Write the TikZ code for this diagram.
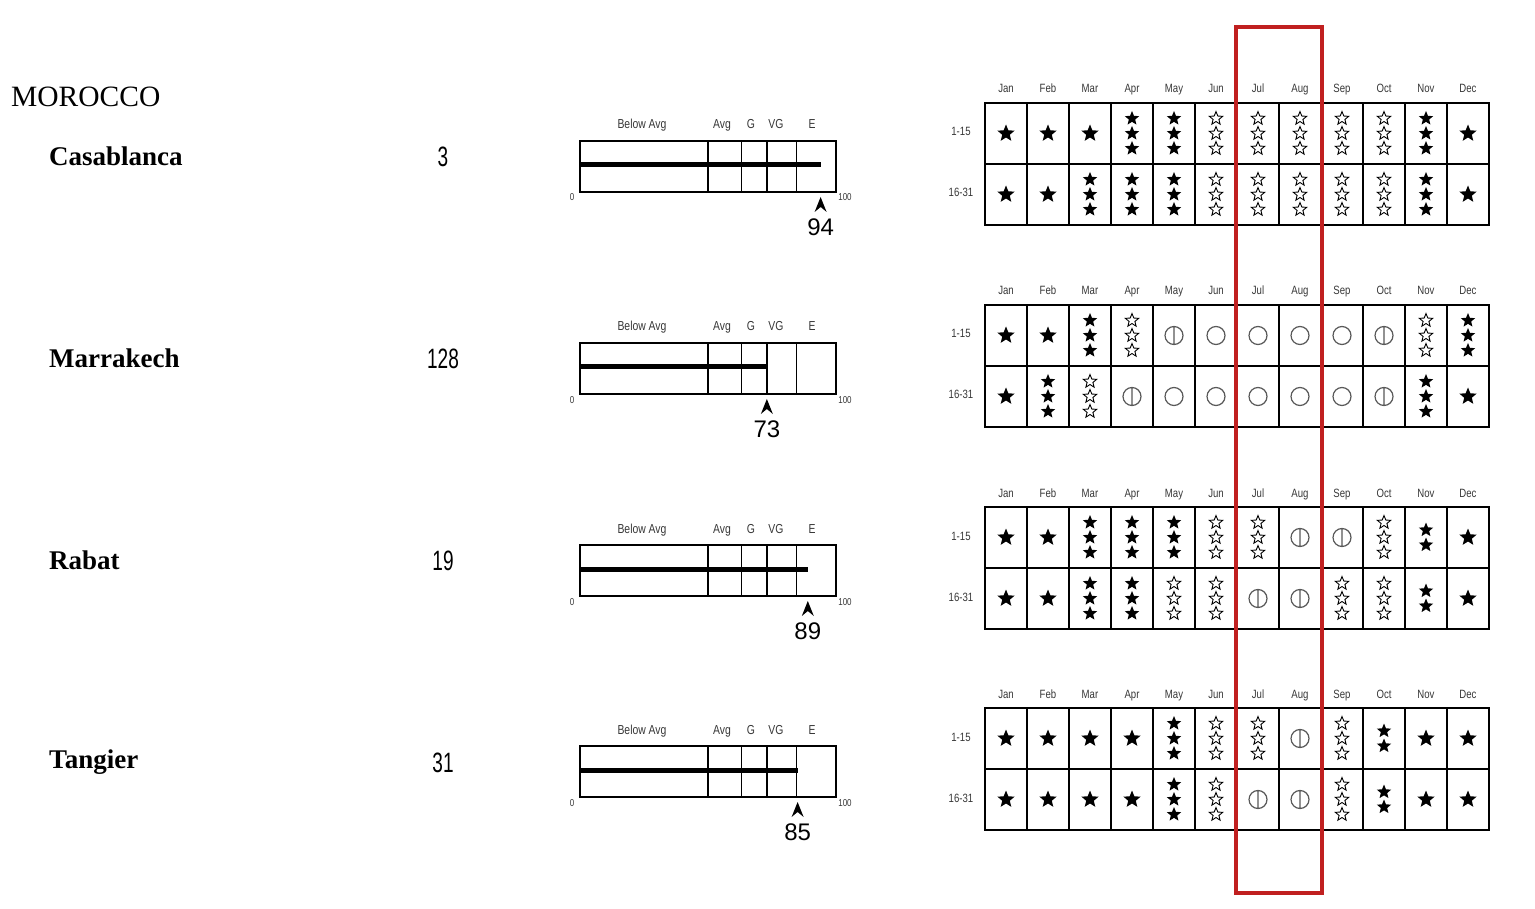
\documentclass[tikz,border=0pt]{standalone}
\usepackage{fontspec}
\setmainfont{Liberation Serif}
\setsansfont{Liberation Sans}
\newfontfamily\narrowsans[FakeStretch=0.8]{Liberation Sans}
\newfontfamily\numsans[FakeStretch=0.68]{Liberation Sans}
\usetikzlibrary{shapes.geometric}
\definecolor{boxred}{RGB}{192,32,32}
\definecolor{inkgray}{RGB}{55,55,55}

\tikzset{
  fstar/.style={star, star points=5, star point ratio=2.25, fill=black, inner sep=0pt, minimum size=#1},
  ostar/.style={star, star points=5, star point ratio=2.3, draw=black, line width=0.9pt, fill=white, inner sep=0pt, minimum size=#1},
  gridline/.style={line width=1.3pt},
  monthlabel/.style={font=\narrowsans\fontsize{12}{12}\selectfont, text=inkgray, inner sep=0pt, anchor=base},
  barlabel/.style={font=\narrowsans\fontsize{13}{13}\selectfont, text=inkgray, inner sep=0pt, anchor=base},
  f1/.pic={\node[fstar=18pt] {};},
  f2/.pic={\foreach \k in {-1,1} \node[fstar=15pt] at (0,7.5*\k) {};},
  f3/.pic={\foreach \k in {-1,0,1} \node[fstar=15pt] at (0,15*\k) {};},
  o3/.pic={\foreach \k in {-1,0,1} \node[ostar=14pt] at (0,15*\k) {};},
  ci/.pic={\draw[line width=1.2pt, black!65] (0,0) circle (9);},
  ph/.pic={\draw[line width=1.2pt, black!65] (0,0) circle (9) (0,-9) -- (0,9);}
}

% month grid: #1 top, #2 days 1-15, #3 days 16-31
\newcommand{\monthgrid}[3]{%
  \draw[gridline] (985,#1) rectangle (1489,#1+122);
  \draw[gridline] (985,#1+61) -- (1489,#1+61);
  \foreach \i in {1,...,11} \draw[gridline] (985+42*\i,#1) -- (985+42*\i,#1+122);
  \foreach \m [count=\i] in {Jan,Feb,Mar,Apr,May,Jun,Jul,Aug,Sep,Oct,Nov,Dec}
    \node[monthlabel] at (964+42*\i,#1-10) {\m};
  \node[monthlabel] at (961,#1+33) {1-15};
  \node[monthlabel] at (961,#1+94) {16-31};
  \foreach \s [count=\i] in {#2} \pic at (964+42*\i,#1+30.5) {\s};
  \foreach \s [count=\i] in {#3} \pic at (964+42*\i,#1+91.5) {\s};
}

% rating bar: #1 top, #2 score
\newcommand{\ratingbar}[2]{%
  \begin{scope}[shift={(580,#1)}]
    \draw[gridline] (0,38) rectangle (256,89);
    \foreach \p in {50,63,73,84.5} \draw[gridline] ({2.56*\p},38) -- ({2.56*\p},89);
    \node[barlabel] at (62,26) {Below Avg};
    \node[barlabel] at (142,26) {Avg};
    \node[barlabel] at (171,26) {G};
    \node[barlabel] at (196,26) {VG};
    \node[barlabel] at (232,26) {E};
    \node[barlabel, font=\narrowsans\fontsize{10}{10}\selectfont] at (-8,98) {0};
    \node[barlabel, font=\narrowsans\fontsize{10}{10}\selectfont] at (265,98) {100};
    \draw[line width=5pt] (0,62) -- ({2.56*#2},62);
    \fill ({2.56*#2},94) -- ++(6,15) -- ++(-6,-5) -- ++(-6,5) -- cycle;
    \node[font=\sffamily\fontsize{24}{24}\selectfont, inner sep=0pt] at ({2.56*#2},124) {#2};
  \end{scope}
}

\begin{document}
\begin{tikzpicture}[x=1pt, y=-1pt]
  \useasboundingbox[fill=white] (0,0) rectangle (1535,909);
  %country and cities
  \node[anchor=west, inner sep=0pt, font=\fontsize{29.5}{29.5}\selectfont] (morocco) at (11,97) {MOROCCO};
  \foreach \city/\rank [count=\j] in {Casablanca/3,Marrakech/128,Rabat/19,Tangier/31} {
    \node[anchor=west, inner sep=0pt, font=\bfseries\fontsize{27}{27}\selectfont] (city\j) at (49,103+202*\j-202+53) {\city};
    \node[inner sep=0pt, font=\numsans\fontsize{28}{28}\selectfont] (rank\j) at (443,103+202*\j-202+54) {\rank};
  }
  %rating bars
  \ratingbar{103}{94}
  \ratingbar{305}{73}
  \ratingbar{507}{89}
  \ratingbar{708}{85}
  %month grids
  \monthgrid{103}{f1,f1,f1,f3,f3,o3,o3,o3,o3,o3,f3,f1}{f1,f1,f3,f3,f3,o3,o3,o3,o3,o3,f3,f1}
  \monthgrid{305}{f1,f1,f3,o3,ph,ci,ci,ci,ci,ph,o3,f3}{f1,f3,o3,ph,ci,ci,ci,ci,ci,ph,f3,f1}
  \monthgrid{507}{f1,f1,f3,f3,f3,o3,o3,ph,ph,o3,f2,f1}{f1,f1,f3,f3,o3,o3,ph,ph,o3,o3,f2,f1}
  \monthgrid{708}{f1,f1,f1,f1,f3,o3,o3,ph,o3,f2,f1,f1}{f1,f1,f1,f1,f3,o3,ph,ph,o3,f2,f1,f1}
  %highlight Jul-Aug
  \draw[boxred, line width=4pt] (1236,27) rectangle (1322,893);
\end{tikzpicture}
\end{document}
